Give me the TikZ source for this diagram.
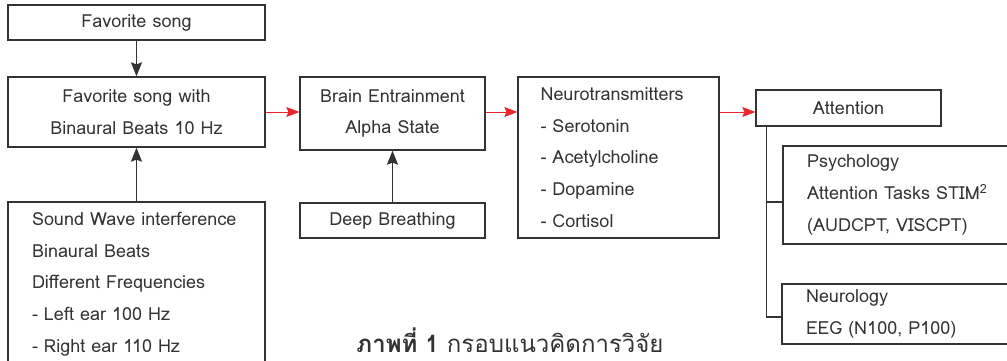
\documentclass[tikz,border=0pt]{standalone}
\usepackage{fontspec}
\setmainfont{Loma}
\newfontfamily\thaifont[Script=Thai]{Loma}
\usetikzlibrary{arrows.meta,calc}
\definecolor{ink}{HTML}{333333}
\definecolor{arrred}{HTML}{E8262B}
\begin{document}
\begin{tikzpicture}[x=1pt,y=-1pt,
  box/.style={draw=ink, line width=1.3pt, inner sep=0pt, text=ink,
    font=\fontsize{18}{31.7}\selectfont},
  blk/.style={draw=ink, line width=1.3pt, -{Stealth[length=14pt,width=11pt,inset=2pt]}},
  redarr/.style={draw=arrred, line width=1pt, -{Stealth[length=13pt,width=10pt,inset=2pt,fill=arrred]}},
  tree/.style={draw=ink, line width=1.3pt}]
\useasboundingbox (0,0) rectangle (1007,360);
\node[box, minimum width=257, minimum height=35] (fav) at (136.5,22.5) {Favorite song};
\node[box, minimum width=257, minimum height=70, align=center] (fav2) at (136.5,112)
  {Favorite song with\\Binaural Beats 10 Hz};
\node[box, minimum width=257, minimum height=164, text width=209, align=left] (sound) at (136.5,284)
  {Sound Wave interference\\Binaural Beats\\Different Frequencies\\- Left ear 100 Hz\\- Right ear 110 Hz};
\node[box, minimum width=185, minimum height=73, align=center] (brain) at (392.5,113.5)
  {Brain Entrainment\\Alpha State};
\node[box, minimum width=185, minimum height=35] (deep) at (392.5,220.5) {Deep Breathing};
\node[box, minimum width=201, minimum height=161, text width=156, align=left] (neuro) at (618.5,157.5)
  {Neurotransmitters\\- Serotonin\\- Acetylcholine\\- Dopamine\\- Cortisol};
\node[box, minimum width=185, minimum height=36] (att) at (848.5,108) {Attention};
\node[box, minimum width=237, minimum height=98, text width=189, align=left] (psych) at (901.5,195)
  {Psychology\\Attention Tasks STIM\textsuperscript{2}\\(AUDCPT, VISCPT)};
\node[box, minimum width=238, minimum height=60, text width=190, align=left] (neurol) at (901,314)
  {Neurology\\EEG (N100, P100)};
\node[font=\fontsize{24}{28}\selectfont\thaifont, text=ink, anchor=base, inner sep=0pt,
  text depth=0pt, text height=18pt] (cap) at (510,352)
  {\textbf{ภาพที่ 1} กรอบแนวคิดการวิจัย};
\draw[blk] (fav) -- (fav2);
\draw[blk] (sound) -- (fav2);
\draw[blk] (deep) -- (brain);
\draw[redarr] (fav2.east) -- (fav2.east -| brain.west);
\draw[redarr] (fav2.east -| brain.east) -- (fav2.east -| neuro.west);
\draw[redarr] (fav2.east -| neuro.east) -- (fav2.east -| att.west);
\coordinate (trunk) at ($(att.south west)+(11,0)$);
\draw[tree] (trunk) |- ($(psych.west)+(0,7)$);
\draw[tree] (trunk) |- ($(neurol.west)+(0,3)$);
\end{tikzpicture}
\end{document}
